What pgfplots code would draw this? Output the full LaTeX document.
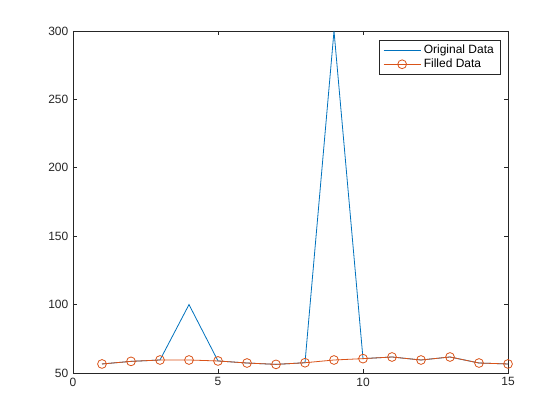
\documentclass[border=0pt]{standalone}
\usepackage{pgfplots}
\pgfplotsset{compat=1.18}
\usepackage{fontspec}
\setmainfont{Liberation Sans}
\definecolor{mblue}{rgb}{0,0.447,0.741}
\definecolor{morange}{rgb}{0.85,0.325,0.098}
\definecolor{axgray}{rgb}{0.15,0.15,0.15}
\begin{document}
\begin{tikzpicture}
\begin{axis}[
    scale only axis,
    width=326.25pt, height=256.5pt,
    xmin=0, xmax=15, ymin=50, ymax=300,
    xtick={0,5,10,15},
    ytick={50,100,150,200,250,300},
    tick align=inside,
    major tick length=3.3pt,
    axis line style={axgray, line width=0.5pt},
    tick style={axgray, line width=0.5pt},
    every tick label/.append style={font=\fontsize{9}{11}\selectfont, text=axgray},
    /pgf/number format/assume math mode=true,
    legend style={at={(0.982,0.974)}, anchor=north east, font=\fontsize{9}{11}\selectfont,
        draw=axgray, line width=0.5pt, inner xsep=2.5pt, inner ysep=1.5pt, row sep=-1.5pt},
    legend cell align=left,
    legend image code/.code={
        \draw[#1] (0cm,0cm) -- (0.98cm,0cm);
        \draw[#1, only marks] plot coordinates {(0.49cm,0cm)};
    },
]
\addplot[color=mblue, line width=0.6pt, mark=none] coordinates {
(1,56.6)(2,58.5)(3,59.5)(4,100)(5,58.8)(6,57.3)(7,56.3)(8,57.5)
(9,300)(10,60.5)(11,61.7)(12,59.5)(13,61.7)(14,57.3)(15,56.6)
};
\addplot[color=morange, line width=0.6pt, mark=o, mark size=3.3pt,
    mark options={solid, fill=none}] coordinates {
(1,56.6)(2,58.5)(3,59.5)(4,59.5)(5,58.8)(6,57.3)(7,56.3)(8,57.5)
(9,59.5)(10,60.5)(11,61.7)(12,59.5)(13,61.7)(14,57.3)(15,56.6)
};
\legend{Original Data, Filled Data}
\end{axis}
\path[use as bounding box] ([shift={(-54.75pt,-35.25pt)}]current axis.south west)
    rectangle ([shift={(39pt,23.25pt)}]current axis.north east);
\end{tikzpicture}
\end{document}
